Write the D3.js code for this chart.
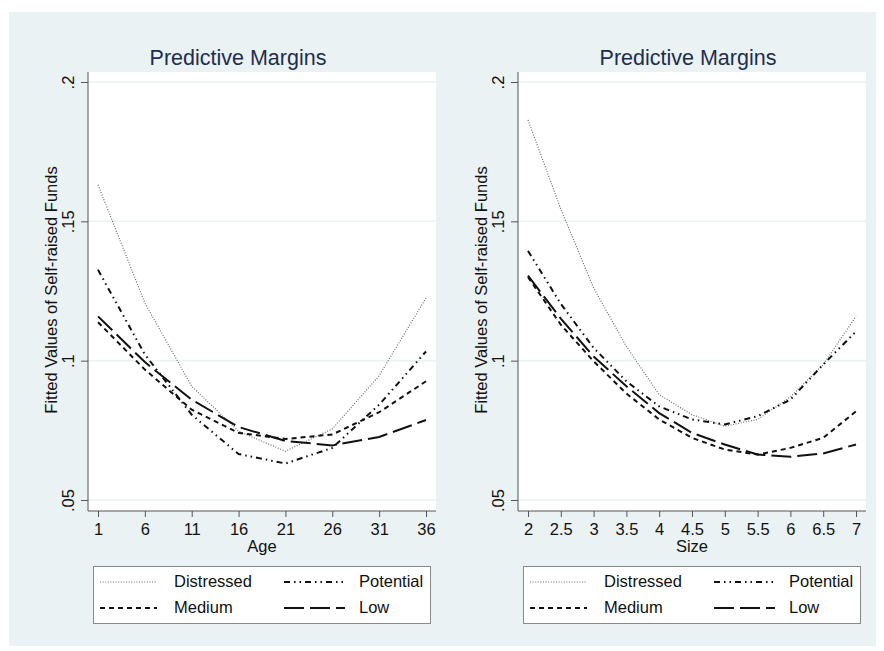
<!DOCTYPE html>
<html>
<head>
<meta charset="utf-8">
<script src="https://cdn.jsdelivr.net/npm/d3@7"></script>
<style>
  html, body { margin: 0; padding: 0; background: #ffffff; }
  svg { display: block; font-family: "Liberation Sans", Arial, sans-serif; }
</style>
</head>
<body>
<svg id="chart" width="884" height="651"></svg>
<script>
// ---------------- data ----------------
const seriesNames = ["Distressed", "Potential", "Medium", "Low"];
const yTicks = [0.05, 0.1, 0.15, 0.2];
const yTickLabels = [".05", ".1", ".15", ".2"];

const ageValues = [1, 6, 11, 16, 21, 26, 31, 36];
const ageDistressed = [0.1631, 0.1207, 0.0908, 0.0747, 0.0675, 0.0755, 0.0946, 0.1225];
const agePotential  = [0.1326, 0.1022, 0.0806, 0.0665, 0.0631, 0.0687, 0.0842, 0.1033];
const ageMedium     = [0.1138, 0.0968, 0.0824, 0.0741, 0.0719, 0.0735, 0.0815, 0.0926];
const ageLow        = [0.1159, 0.0995, 0.0860, 0.0762, 0.0712, 0.0696, 0.0726, 0.0787];

const sizeValues = [2, 2.5, 3, 3.5, 4, 4.5, 5, 5.5, 6, 6.5, 7];
const sizeDistressed = [0.1864, 0.1544, 0.1261, 0.1051, 0.0878, 0.0806, 0.0765, 0.0789, 0.0870, 0.0986, 0.1159];
const sizePotential  = [0.1394, 0.1204, 0.1046, 0.0926, 0.0836, 0.0789, 0.0771, 0.0801, 0.0860, 0.0986, 0.1105];
const sizeMedium     = [0.1300, 0.1129, 0.0998, 0.0882, 0.0789, 0.0723, 0.0681, 0.0663, 0.0687, 0.0723, 0.0818];
const sizeLow        = [0.1305, 0.1151, 0.1015, 0.0908, 0.0812, 0.0741, 0.0699, 0.0663, 0.0655, 0.0667, 0.0699];

const ageTickLabels = ["1", "6", "11", "16", "21", "26", "31", "36"];
const sizeTickLabels = ["2", "2.5", "3", "3.5", "4", "4.5", "5", "5.5", "6", "6.5", "7"];

// ---------------- styles ----------------
const styles = {
  Distressed: { stroke: "#6e6e6e", width: 1.2, dash: "1,1.6" },
  Potential:  { stroke: "#111111", width: 2,   dash: "6,4,1.5,4,1.5,4" },
  Medium:     { stroke: "#111111", width: 2,   dash: "5,4" },
  Low:        { stroke: "#111111", width: 2,   dash: "20,6" }
};
const FS = 16.5;

const svg = d3.select("#chart");
const BG = "#eaf2f3";
svg.append("rect").attr("x", 9).attr("y", 12).attr("width", 867).attr("height", 634).attr("fill", BG);

const panels = [
  { dx: 0, xs: ageValues, xTicks: ageValues, xLabels: ageTickLabels, xTitle: "Age",
    series: [ageDistressed, agePotential, ageMedium, ageLow], titleX: 238 },
  { dx: 430, xs: sizeValues, xTicks: sizeValues, xLabels: sizeTickLabels, xTitle: "Size",
    series: [sizeDistressed, sizePotential, sizeMedium, sizeLow], titleX: 688 }
];

const plotL = 88, plotR = 436, plotT = 72, plotB = 511;

panels.forEach(p => {
  const g = svg.append("g").attr("transform", `translate(${p.dx},0)`);
  const x = d3.scaleLinear().domain(d3.extent(p.xs)).range([98, 426]);
  const y = d3.scaleLinear().domain([0.05, 0.2]).range([500, 82]);

  // plot region
  g.append("rect").attr("x", plotL).attr("y", plotT).attr("width", plotR - plotL).attr("height", plotB - plotT).attr("fill", "#ffffff");

  // grid
  g.selectAll(".grid").data(yTicks).enter().append("line")
    .attr("x1", plotL).attr("x2", plotR)
    .attr("y1", d => y(d)).attr("y2", d => y(d))
    .attr("stroke", BG).attr("stroke-width", 1.5);

  // title
  g.append("text").attr("x", p.titleX - p.dx).attr("y", 65).attr("text-anchor", "middle")
    .attr("font-size", 21.5).attr("fill", "#1e2d4f").text("Predictive Margins");

  // lines
  p.series.forEach((vals, i) => {
    const st = styles[seriesNames[i]];
    const line = d3.line().x((d, j) => x(p.xs[j])).y(d => y(d));
    g.append("path").datum(vals).attr("d", line).attr("fill", "none")
      .attr("stroke", st.stroke).attr("stroke-width", st.width)
      .attr("stroke-dasharray", st.dash);
  });

  // y axis
  const yAxis = d3.axisLeft(y).tickValues(yTicks).tickSize(7).tickFormat((d, i) => yTickLabels[i]);
  const ya = g.append("g").attr("transform", `translate(${plotL},0)`).call(yAxis);
  ya.select(".domain").attr("d", `M0,${plotT}V${plotB}`).attr("stroke", "#555");
  ya.selectAll(".tick line").attr("stroke", "#555");
  ya.selectAll(".tick text").attr("font-size", FS).attr("fill", "#111")
    .attr("text-anchor", "middle").attr("x", null).attr("dy", null)
    .attr("transform", "translate(-14,0) rotate(-90)");

  // x axis
  const xAxis = d3.axisBottom(x).tickValues(p.xTicks).tickSize(6).tickFormat((d, i) => p.xLabels[i]);
  const xa = g.append("g").attr("transform", `translate(0,${plotB})`).call(xAxis);
  xa.select(".domain").attr("d", `M${plotL},0H${plotR}`).attr("stroke", "#555");
  xa.selectAll(".tick line").attr("stroke", "#555");
  xa.selectAll(".tick text").attr("font-size", FS).attr("fill", "#111").attr("dy", null).attr("y", 24);

  // axis titles
  g.append("text").attr("x", (plotL + plotR) / 2).attr("y", 552).attr("text-anchor", "middle")
    .attr("font-size", FS).attr("fill", "#111").text(p.xTitle);
  g.append("text").attr("transform", `translate(57,290) rotate(-90)`).attr("text-anchor", "middle")
    .attr("font-size", FS).attr("fill", "#111").text("Fitted Values of Self-raised Funds");

  // legend
  const lg = g.append("g");
  lg.append("rect").attr("x", 93.5).attr("y", 566.5).attr("width", 337).attr("height", 57)
    .attr("fill", "#ffffff").attr("stroke", "#8a8a8a").attr("stroke-width", 1);
  const pos = [
    { sx1: 100, sx2: 157, tx: 174, sy: 582, ty: 587 },
    { sx1: 284, sx2: 345, tx: 359, sy: 582, ty: 587 },
    { sx1: 100, sx2: 157, tx: 174, sy: 608, ty: 613 },
    { sx1: 284, sx2: 345, tx: 359, sy: 608, ty: 613 }
  ];
  seriesNames.forEach((name, i) => {
    const st = styles[name];
    const ps = pos[i];
    lg.append("line").attr("x1", ps.sx1).attr("x2", ps.sx2).attr("y1", ps.sy).attr("y2", ps.sy)
      .attr("stroke", st.stroke).attr("stroke-width", st.width).attr("stroke-dasharray", st.dash);
    lg.append("text").attr("x", ps.tx).attr("y", ps.ty).attr("font-size", FS).attr("fill", "#111").text(name);
  });
});
</script>
</body>
</html>
